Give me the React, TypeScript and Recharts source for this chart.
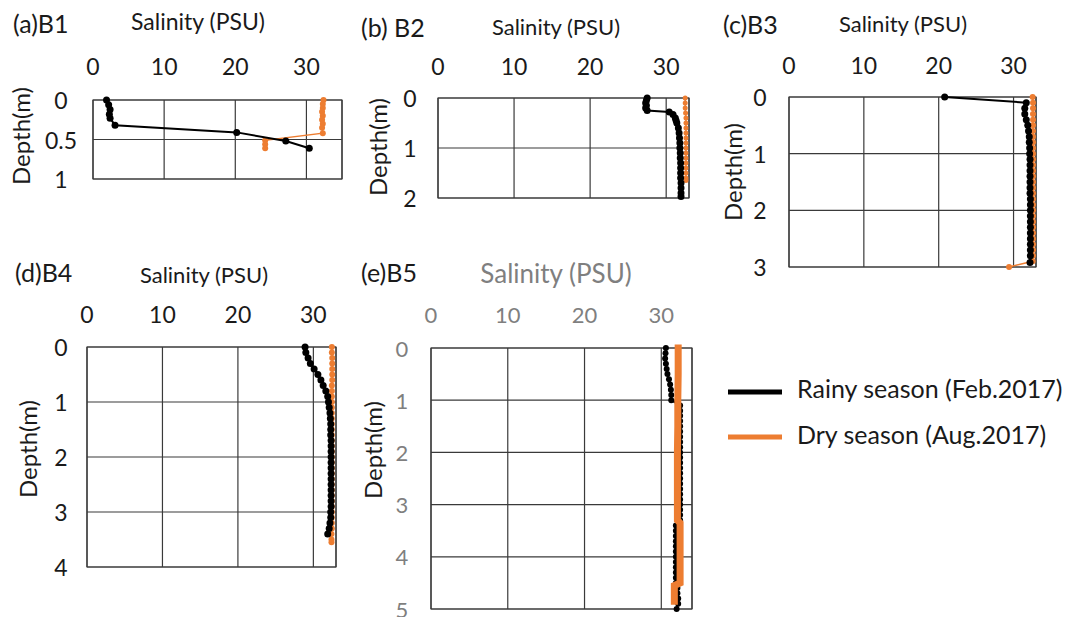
import { ScatterChart, Scatter, XAxis, YAxis, CartesianGrid, ReferenceArea } from "recharts";

const FONT = "Lato, sans-serif";
const BLACK = "#000000";
const ORANGE = "#ED7D31";
const GRID = "#3a3a3a";

const salinityTicks = [0, 10, 20, 30];

// (a) B1
const b1DepthTicks = [0, 0.5, 1];
const b1RainyDepth = [0, 0.06, 0.12, 0.18, 0.23, 0.32, 0.41, 0.52, 0.61];
const b1RainySal = [1.9, 2.2, 2.4, 2.3, 2.4, 3.1, 20.2, 27.1, 30.4];
const b1DryDepth = [0, 0.05, 0.1, 0.15, 0.2, 0.25, 0.3, 0.35, 0.42, 0.51, 0.56, 0.61];
const b1DrySal = [32.4, 32.3, 32.3, 32.2, 32.3, 32.2, 32.3, 32.2, 32.3, 24.2, 24.2, 24.2];

// (b) B2
const b2DepthTicks = [0, 1, 2];
const b2RainyDepth = [0, 0.05, 0.1, 0.15, 0.2, 0.25, 0.28, 0.33, 0.4, 0.45, 0.5, 0.6, 0.7, 0.8, 0.9, 1.0, 1.1, 1.2, 1.3, 1.4, 1.5, 1.6, 1.7, 1.8, 1.9, 1.97];
const b2RainySal = [27.5, 27.4, 27.3, 27.4, 27.3, 27.5, 30.4, 30.9, 31.2, 31.3, 31.4, 31.6, 31.7, 31.75, 31.8, 31.8, 31.85, 31.85, 31.9, 31.9, 31.9, 31.9, 31.95, 31.95, 31.95, 31.95];
const b2DryDepth = [0, 0.1, 0.2, 0.3, 0.4, 0.5, 0.6, 0.7, 0.8, 0.9, 1.0, 1.1, 1.2, 1.3, 1.4, 1.5, 1.6, 1.65];
const b2DrySal = [32.5, 32.5, 32.5, 32.55, 32.6, 32.6, 32.6, 32.6, 32.6, 32.6, 32.6, 32.6, 32.6, 32.6, 32.6, 32.6, 32.6, 32.6];

// (c) B3
const b3DepthTicks = [0, 1, 2, 3];
const b3RainyDepth = [0, 0.1, 0.2, 0.3, 0.4, 0.5, 0.6, 0.7, 0.8, 0.9, 1.0, 1.1, 1.2, 1.3, 1.4, 1.5, 1.6, 1.7, 1.8, 1.9, 2.0, 2.1, 2.2, 2.3, 2.4, 2.5, 2.6, 2.7, 2.8, 2.92];
const b3RainySal = [20.8, 31.7, 31.5, 31.5, 31.7, 31.9, 32.0, 32.1, 32.1, 32.15, 32.15, 32.2, 32.2, 32.2, 32.2, 32.2, 32.2, 32.2, 32.25, 32.25, 32.25, 32.25, 32.25, 32.25, 32.25, 32.25, 32.25, 32.25, 32.25, 32.2];
const b3DryDepth = [0, 0.1, 0.2, 0.3, 0.4, 0.5, 0.6, 0.7, 0.8, 0.9, 1.0, 1.1, 1.2, 1.3, 1.4, 1.5, 1.6, 1.7, 1.8, 1.9, 2.0, 2.1, 2.2, 2.3, 2.4, 2.5, 2.6, 2.7, 2.8, 2.9, 3.0];
const b3DrySal = [32.55, 32.6, 32.6, 32.6, 32.6, 32.6, 32.6, 32.6, 32.6, 32.6, 32.6, 32.6, 32.6, 32.6, 32.6, 32.6, 32.6, 32.6, 32.6, 32.6, 32.6, 32.6, 32.6, 32.6, 32.6, 32.6, 32.6, 32.6, 32.6, 32.55, 29.4];

// (d) B4
const b4DepthTicks = [0, 1, 2, 3, 4];
const b4RainyDepth = [0, 0.1, 0.2, 0.3, 0.4, 0.5, 0.6, 0.7, 0.8, 0.9, 1.0, 1.1, 1.2, 1.3, 1.4, 1.5, 1.6, 1.7, 1.8, 1.9, 2.0, 2.1, 2.2, 2.3, 2.4, 2.5, 2.6, 2.7, 2.8, 2.9, 3.0, 3.1, 3.2, 3.3, 3.4];
const b4RainySal = [28.9, 29.0, 29.3, 29.6, 30.1, 30.6, 31.0, 31.3, 31.65, 31.9, 32.0, 32.1, 32.2, 32.25, 32.3, 32.3, 32.3, 32.35, 32.35, 32.35, 32.35, 32.35, 32.35, 32.35, 32.35, 32.35, 32.35, 32.35, 32.35, 32.35, 32.3, 32.3, 32.2, 32.1, 31.9];
const b4DryDepth = [0, 0.1, 0.2, 0.3, 0.4, 0.5, 0.6, 0.7, 0.8, 0.9, 1.0, 1.1, 1.2, 1.3, 1.4, 1.5, 1.6, 1.7, 1.8, 1.9, 2.0, 2.1, 2.2, 2.3, 2.4, 2.5, 2.6, 2.7, 2.8, 2.9, 3.0, 3.1, 3.2, 3.3, 3.4, 3.5, 3.55];
const b4DrySal = [32.45, 32.45, 32.5, 32.5, 32.5, 32.5, 32.5, 32.45, 32.45, 32.45, 32.45, 32.45, 32.45, 32.45, 32.45, 32.45, 32.45, 32.45, 32.45, 32.45, 32.45, 32.45, 32.45, 32.45, 32.45, 32.45, 32.45, 32.45, 32.45, 32.45, 32.45, 32.45, 32.45, 32.45, 32.4, 32.4, 32.4];

// (e) B5
const b5DepthTicks = [0, 1, 2, 3, 4, 5];
const b5RainyDepth = [0, 0.1, 0.2, 0.3, 0.4, 0.5, 0.6, 0.7, 0.8, 0.9, 1.0, 1.1, 1.2, 1.3, 1.4, 1.5, 1.6, 1.7, 1.8, 1.9, 2.0, 2.1, 2.2, 2.3, 2.4, 2.5, 2.6, 2.7, 2.8, 2.9, 3.0, 3.1, 3.2, 3.3, 3.4, 3.5, 3.6, 3.7, 3.8, 3.9, 4.0, 4.1, 4.2, 4.3, 4.4, 4.5, 4.6, 4.7, 4.8, 4.9, 5.0];
const b5RainySal = [30.6, 30.55, 30.5, 30.6, 30.7, 30.8, 31.0, 31.15, 31.25, 31.3, 31.3, 32.45, 32.45, 32.45, 32.45, 32.45, 32.45, 32.45, 32.45, 32.45, 32.45, 32.45, 32.45, 32.45, 32.45, 32.45, 32.45, 32.45, 32.45, 32.45, 32.45, 32.45, 32.45, 32.45, 31.9, 31.9, 31.9, 31.9, 31.9, 31.9, 31.9, 31.9, 31.9, 31.9, 31.9, 31.9, 32.1, 32.1, 32.2, 32.2, 32.0];
const b5DryDepth = [0, 0.5, 1.0, 1.5, 2.0, 2.5, 3.0, 3.3, 3.35, 3.5, 4.0, 4.5, 4.55, 4.7, 4.85];
const b5DrySal = [32.2, 32.2, 32.15, 32.15, 32.1, 32.1, 32.1, 32.1, 32.45, 32.45, 32.45, 32.45, 31.7, 31.7, 31.7];

type Pt = { d: number; s: number };
const toPoints = (depth: number[], sal: number[]): Pt[] => depth.map((d, i) => ({ d, s: sal[i] }));

const AX = 60;
const PAD = 24;

interface PanelProps {
  left: number;
  top: number;
  width: number;
  height: number;
  xMax: number;
  depthTicks: number[];
  rainy: Pt[];
  dry: Pt[];
  xGap: number;
  yGap: number;
  tickColor: string;
  tickSize: number;
  rainyR: number;
  dryR: number;
  dryAsLine?: boolean;
}

function Panel(p: PanelProps) {
  const yMax = p.depthTicks[p.depthTicks.length - 1];

  const xTick = (t: any) => (
    <text x={t.x} y={t.y} textAnchor="middle" fontFamily={FONT} fontSize={p.tickSize} fill={p.tickColor}>
      {t.payload.value}
    </text>
  );
  const yTick = (t: any) => (
    <text x={t.x} y={t.y} textAnchor="middle" dominantBaseline="central" fontFamily={FONT} fontSize={p.tickSize} fill={p.tickColor}>
      {t.payload.value}
    </text>
  );

  const rainySeries = (
    <Scatter
      key="rainy"
      data={p.rainy}
      fill={BLACK}
      line={{ stroke: BLACK, strokeWidth: 2 }}
      shape={(s: any) => <circle cx={s.cx} cy={s.cy} r={p.rainyR} fill={BLACK} />}
      isAnimationActive={false}
    />
  );
  const drySeries = (
    <Scatter
      key="dry"
      data={p.dry}
      fill={ORANGE}
      line={{ stroke: ORANGE, strokeWidth: p.dryAsLine ? 7 : 1.5, strokeLinecap: p.dryAsLine ? "square" : "butt" }}
      shape={(s: any) => (p.dryAsLine ? <g /> : <circle cx={s.cx} cy={s.cy} r={p.dryR} fill={ORANGE} />)}
      isAnimationActive={false}
    />
  );

  return (
    <div style={{ position: "absolute", left: p.left - AX, top: p.top - AX }}>
      <ScatterChart width={p.width + AX + PAD} height={p.height + AX + PAD} margin={{ top: 0, right: PAD, bottom: PAD, left: 0 }}>
        <CartesianGrid stroke={GRID} strokeWidth={1.2} />
        <ReferenceArea x1={0} x2={p.xMax} y1={0} y2={yMax} fill="none" stroke={GRID} strokeWidth={1.2} />
        <XAxis
          type="number"
          dataKey="s"
          orientation="top"
          domain={[0, p.xMax]}
          ticks={salinityTicks}
          interval={0}
          height={AX}
          tickSize={0}
          tickMargin={p.xGap}
          axisLine={false}
          tickLine={false}
          tick={xTick}
        />
        <YAxis
          type="number"
          dataKey="d"
          reversed
          domain={[0, yMax]}
          ticks={p.depthTicks}
          interval={0}
          width={AX}
          tickSize={0}
          tickMargin={p.yGap}
          axisLine={false}
          tickLine={false}
          tick={yTick}
        />
        {p.dryAsLine ? [rainySeries, drySeries] : [drySeries, rainySeries]}
      </ScatterChart>
    </div>
  );
}

function Labels() {
  const dark = "#1a1a1a";
  const gray = "#7f7f7f";
  const depth = (x: number, y: number) => (
    <text x={x} y={y} transform={`rotate(-90 ${x} ${y})`} textAnchor="middle" dominantBaseline="central" fontFamily={FONT} fontSize={24} fill={dark}>
      Depth(m)
    </text>
  );
  return (
    <svg width={1069} height={617} style={{ position: "absolute", left: 0, top: 0 }}>
      <g fontFamily={FONT} fill={dark}>
        <text x={13} y={33} fontSize={25}>(a)B1</text>
        <text x={198} y={30} fontSize={23} textAnchor="middle">Salinity (PSU)</text>
        <text x={361} y={37} fontSize={25}>(b) B2</text>
        <text x={556} y={35} fontSize={22} textAnchor="middle">Salinity (PSU)</text>
        <text x={723} y={34} fontSize={25}>(c)B3</text>
        <text x={903} y={32} fontSize={22} textAnchor="middle">Salinity (PSU)</text>
        <text x={15} y={282} fontSize={25}>(d)B4</text>
        <text x={204} y={283} fontSize={22} textAnchor="middle">Salinity (PSU)</text>
        <text x={361} y={282} fontSize={25}>(e)B5</text>
        <text x={556} y={283} fontSize={26} textAnchor="middle" fill={gray}>Salinity (PSU)</text>
      </g>
      {depth(20, 136)}
      {depth(377, 147)}
      {depth(732, 172)}
      {depth(27, 449)}
      {depth(372, 450)}
      <line x1={728} x2={782} y1={392} y2={392} stroke={BLACK} strokeWidth={5} />
      <text x={797} y={398} fontFamily={FONT} fontSize={25} fill={dark}>Rainy season (Feb.2017)</text>
      <line x1={728} x2={782} y1={437} y2={437} stroke={ORANGE} strokeWidth={5} />
      <text x={797} y={444} fontFamily={FONT} fontSize={25} fill={dark}>Dry season (Aug.2017)</text>
    </svg>
  );
}

export default function App() {
  return (
    <div style={{ position: "absolute", left: 0, top: 0, width: 1069, height: 617, background: "#fff" }}>
      <Labels />
      <Panel left={93} top={100} width={249} height={79} xMax={35} depthTicks={b1DepthTicks}
        rainy={toPoints(b1RainyDepth, b1RainySal)} dry={toPoints(b1DryDepth, b1DrySal)}
        xGap={25} yGap={32} tickColor="#1a1a1a" tickSize={23} rainyR={3.5} dryR={3} />
      <Panel left={438} top={98} width={251} height={100} xMax={33} depthTicks={b2DepthTicks}
        rainy={toPoints(b2RainyDepth, b2RainySal)} dry={toPoints(b2DryDepth, b2DrySal)}
        xGap={23} yGap={28} tickColor="#1a1a1a" tickSize={23} rainyR={3.5} dryR={2.5} />
      <Panel left={789} top={97} width={247} height={170} xMax={33} depthTicks={b3DepthTicks}
        rainy={toPoints(b3RainyDepth, b3RainySal)} dry={toPoints(b3DryDepth, b3DrySal)}
        xGap={23} yGap={29} tickColor="#1a1a1a" tickSize={23} rainyR={3.5} dryR={3} />
      <Panel left={87} top={347} width={249} height={220} xMax={33} depthTicks={b4DepthTicks}
        rainy={toPoints(b4RainyDepth, b4RainySal)} dry={toPoints(b4DryDepth, b4DrySal)}
        xGap={24} yGap={26} tickColor="#1a1a1a" tickSize={23} rainyR={3.5} dryR={3} />
      <Panel left={431} top={348} width={261} height={261} xMax={34} depthTicks={b5DepthTicks}
        rainy={toPoints(b5RainyDepth, b5RainySal)} dry={toPoints(b5DryDepth, b5DrySal)}
        xGap={25} yGap={29} tickColor="#7f7f7f" tickSize={22} rainyR={3} dryR={3} dryAsLine />
    </div>
  );
}
